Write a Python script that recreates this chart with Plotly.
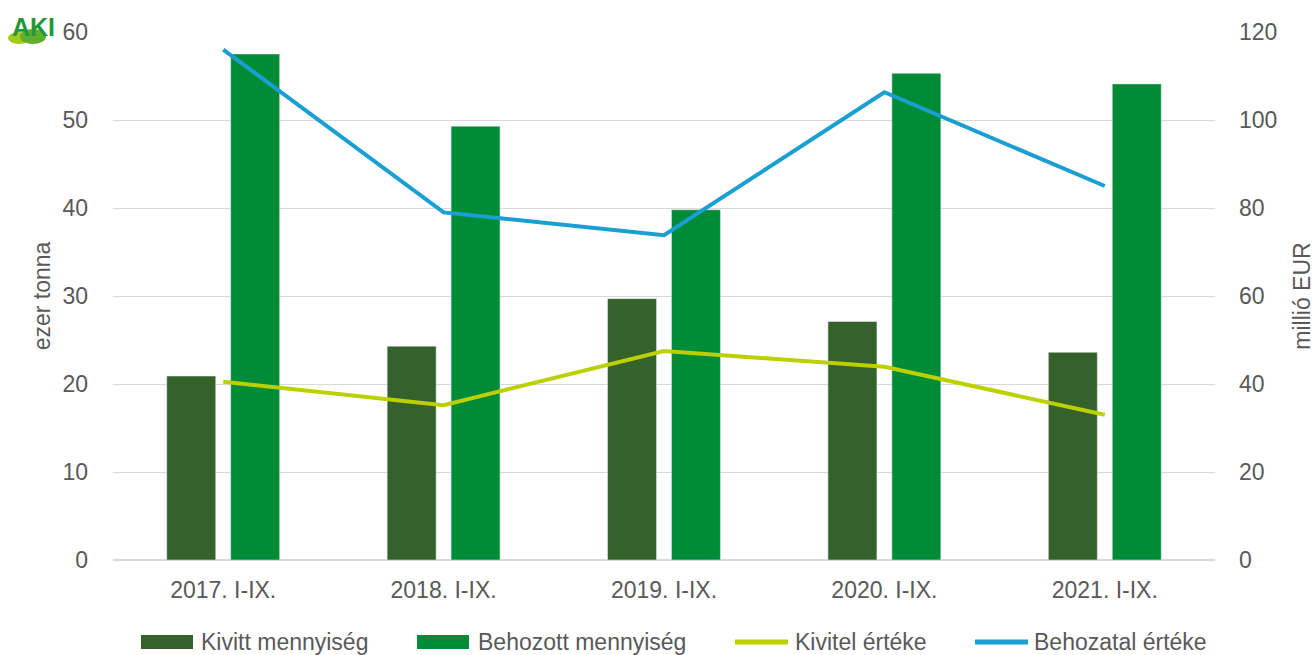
import plotly.graph_objects as go

categories = ["2017. I-IX.", "2018. I-IX.", "2019. I-IX.", "2020. I-IX.", "2021. I-IX."]
kivitt_menny = [20.9, 24.3, 29.7, 27.1, 23.6]
behozott_menny = [57.5, 49.3, 39.8, 55.3, 54.1]
kivitel_ertek = [40.5, 35.2, 47.5, 43.9, 33.0]
behozatal_ertek = [116.0, 79.0, 73.8, 106.3, 85.0]

series_names = ["Kivitt mennyiség", "Behozott mennyiség", "Kivitel értéke", "Behozatal értéke"]
colors = ["#35612B", "#008C37", "#BCD000", "#1A9FD2"]

FONT = "Liberation Sans, Arial, sans-serif"
GREY = "#595959"
W, H = 1315, 655
ML, MR, MT, MB = 113, 100, 32, 95
PW, PH = W - ML - MR, H - MT - MB


def px(x):
    return (x - ML) / PW


def py(y):
    return (H - MB - y) / PH


fig = go.Figure()
fig.add_trace(go.Bar(x=categories, y=kivitt_menny, name=series_names[0],
                     marker_color=colors[0], yaxis="y"))
fig.add_trace(go.Bar(x=categories, y=behozott_menny, name=series_names[1],
                     marker_color=colors[1], yaxis="y"))
fig.add_trace(go.Scatter(x=categories, y=kivitel_ertek, name=series_names[2],
                         mode="lines", line=dict(color=colors[2], width=4), yaxis="y2"))
fig.add_trace(go.Scatter(x=categories, y=behozatal_ertek, name=series_names[3],
                         mode="lines", line=dict(color=colors[3], width=4), yaxis="y2"))

fig.update_layout(
    width=W, height=H,
    margin=dict(l=ML, r=MR, t=MT, b=MB),
    paper_bgcolor="white", plot_bgcolor="white",
    font=dict(family=FONT, color=GREY, size=23),
    barmode="group", bargap=0.42, bargroupgap=0.234,
    showlegend=False,
    xaxis=dict(showgrid=False, showline=False, ticks="", automargin=False,
               tickfont=dict(size=23, color=GREY), ticklabelstandoff=14),
    yaxis=dict(range=[0, 60], dtick=10, showgrid=True, gridcolor="#D9D9D9", gridwidth=1,
               zeroline=True, zerolinecolor="#D9D9D9", showline=False, automargin=False,
               tickfont=dict(size=23, color=GREY), ticklabelstandoff=24,
               title=dict(text="ezer tonna", font=dict(size=23, color=GREY), standoff=5)),
    yaxis2=dict(range=[0, 120], dtick=20, overlaying="y", side="right", showgrid=False,
                zeroline=False, showline=False, automargin=False,
                tickfont=dict(size=23, color=GREY), ticklabelstandoff=23,
                title=dict(text="millió EUR", font=dict(size=23, color=GREY), standoff=20)),
)

# Custom legend (large symbols as in the reference)
leg_y = 642
legend_items = [
    ("box", 141, 193, 199),
    ("box", 417, 469, 476),
    ("line", 735, 788, 793),
    ("line", 975, 1028, 1032),
]
for (kind, x0, x1, tx), name, col in zip(legend_items, series_names, colors):
    if kind == "box":
        fig.add_shape(type="rect", xref="paper", yref="paper",
                      x0=px(x0), x1=px(x1), y0=py(leg_y + 7), y1=py(leg_y - 7),
                      fillcolor=col, line_width=0)
    else:
        fig.add_shape(type="line", xref="paper", yref="paper",
                      x0=px(x0), x1=px(x1), y0=py(leg_y), y1=py(leg_y),
                      line=dict(color=col, width=5))
    fig.add_annotation(text=name, xref="paper", yref="paper", x=px(tx), y=py(leg_y),
                       xanchor="left", yanchor="middle", showarrow=False,
                       font=dict(family=FONT, size=23, color=GREY))

# AKI logo (approximation)
fig.add_shape(type="circle", xref="paper", yref="paper", x0=px(8), x1=px(30), y0=py(44), y1=py(32),
              fillcolor="#A6C81A", line_width=0, layer="above")
fig.add_shape(type="circle", xref="paper", yref="paper", x0=px(20), x1=px(46), y0=py(44), y1=py(29),
              fillcolor="#5FAE2E", line_width=0, layer="above")
fig.add_annotation(text="<b>AKI</b>", xref="paper", yref="paper", x=px(57), y=py(27),
                   xanchor="right", yanchor="middle", showarrow=False,
                   font=dict(family=FONT, size=25, color="#1E9A3A"))

fig.write_html(
    "out.html",
    config={"displayModeBar": False},
    post_script="document.body.style.margin='0';document.body.style.overflow='hidden';",
)
